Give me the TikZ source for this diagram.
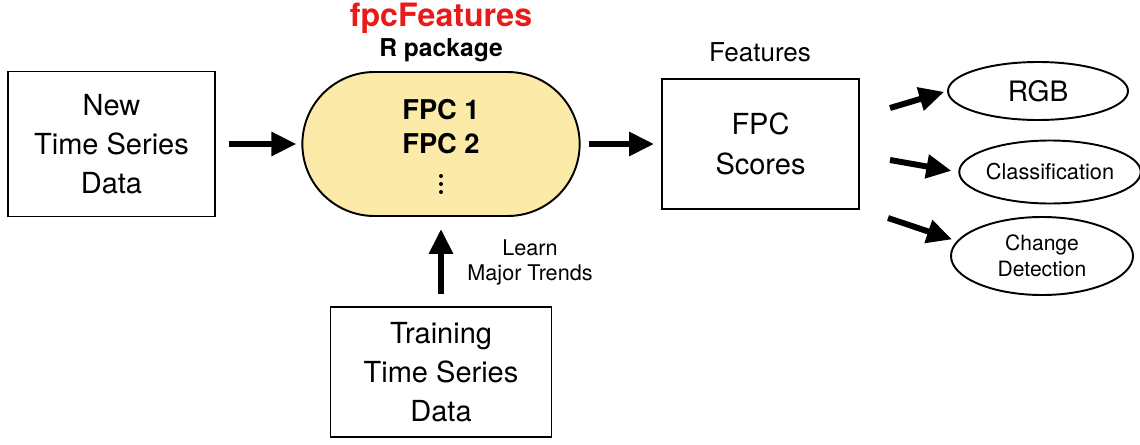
\documentclass[tikz,border=0pt]{standalone}
\usepackage{fontspec}
\setmainfont{TeX Gyre Heros}
\usetikzlibrary{arrows.meta,positioning,shapes.geometric,shapes.misc}
\definecolor{pkgyellow}{RGB}{252,234,168}
\definecolor{pkgred}{RGB}{232,26,26}

\begin{document}
\begin{tikzpicture}[every node/.style={font=\fontsize{14.8}{22.7}\selectfont},
  box/.style={draw,line width=1.1pt,align=center,inner sep=0pt,font=\fontsize{16.5}{22.3}\selectfont},
  oval/.style={draw,ellipse,line width=1.1pt,align=center,inner sep=0pt},
  arr/.style={line width=3.4pt,-{Triangle[length=0.5cm,width=0.46cm]}}]
\useasboundingbox (0,0) rectangle (22.8,8.88);
% inputs and package
\node[box,minimum width=4.14cm,minimum height=2.9cm] (newdata) at (2.23,6.00) {New\\Time Series\\Data};
\node[draw,rounded rectangle,fill=pkgyellow,line width=1.1pt,minimum width=5.78cm,minimum height=2.88cm] (fpc) at (8.82,6.00) {};
\node[font=\fontsize{15.5}{19.3}\selectfont\bfseries,align=center] (fpcs) at (8.82,6.34) {FPC 1\\FPC 2};
\foreach \y in {5.36,5.20,5.04} \fill (8.82,\y) circle (0.04);
\node[font=\fontsize{18.3}{22}\selectfont\bfseries,text=pkgred] (title) at (8.82,8.52) {fpcFeatures};
\node[font=\fontsize{14}{17}\selectfont\bfseries] (pkg) at (8.82,7.88) {R package};
\node[box,minimum width=4.42cm,minimum height=2.6cm] (train) at (8.82,1.44) {Training\\Time Series\\Data};
\node[font=\fontsize{12.3}{14.2}\selectfont,align=center] (learn) at (10.6,3.63) {Learn\\Major Trends};
% features and uses
\node[box,minimum width=3.94cm,minimum height=2.6cm] (scores) at (15.21,6.00) {FPC\\Scores};
\node (feat) at (15.2,7.84) {Features};
\node[oval,minimum width=3.6cm,minimum height=1.16cm,font=\fontsize{16}{19}\selectfont] (rgb) at (20.76,7.06) {RGB};
\node[oval,minimum width=3.54cm,minimum height=1.26cm,font=\fontsize{12.4}{15}\selectfont] (cls) at (21.0,5.44) {Classification};
\node[oval,minimum width=3.64cm,minimum height=1.56cm,font=\fontsize{12}{14.7}\selectfont] (chg) at (20.84,3.76) {Change\\Detection};
\coordinate (o1) at (17.80,6.72);
\coordinate (o2) at (17.80,5.68);
\coordinate (o3) at (17.76,4.52);
% arrows
\draw[arr,shorten <=0.26cm,shorten >=0.1cm] (newdata.east) -- (fpc.west);
\draw[arr,shorten <=0.16cm,shorten >=0.14cm] (fpc.east) -- (scores.west);
\draw[arr,shorten <=0.24cm,shorten >=0.24cm] (train.north) -- (fpc.south);
\draw[arr,shorten >=0.06cm] (o1) -- (rgb.west);
\draw[arr,shorten >=0.14cm] (o2) -- (cls.west);
\draw[arr,shorten >=0.1cm] (o3) -- (chg.170);
\end{tikzpicture}
\end{document}
